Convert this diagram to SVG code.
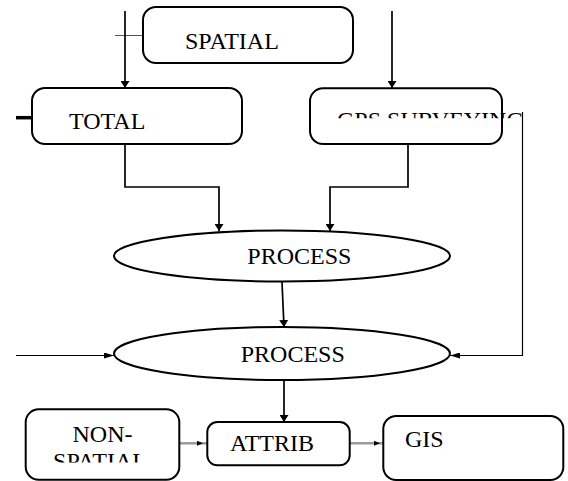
<svg xmlns="http://www.w3.org/2000/svg" width="568" height="481" viewBox="0 0 568 481">
<style>
.box{fill:#fff;stroke:#000;stroke-width:2}
.lbl{font-family:"Liberation Serif","Times New Roman",serif;font-size:24px;fill:#000}
.con{fill:none;stroke:#000;stroke-width:1.7}
.thin{fill:none;stroke:#000;stroke-width:1.2}
.gray{fill:none;stroke:#9a9a9a;stroke-width:2.5}
</style>
<defs>
<marker id="ah" markerUnits="userSpaceOnUse" markerWidth="8" markerHeight="9" refX="7" refY="4.5" orient="auto">
<path d="M0,0 L7,4.5 L0,9 z" fill="#000"/>
</marker>
<marker id="ahThin" markerUnits="userSpaceOnUse" markerWidth="11" markerHeight="6" refX="10" refY="3" orient="auto">
<path d="M0,0 L10,3 L0,6 z" fill="#000"/>
</marker>
<marker id="ahSmall" markerUnits="userSpaceOnUse" markerWidth="7" markerHeight="5" refX="6" refY="2.5" orient="auto">
<path d="M0,0 L6,2.5 L0,5 z" fill="#000"/>
</marker>
<clipPath id="clipGps"><rect x="300" y="95" width="240" height="23.3"/></clipPath>
<clipPath id="clipNon"><rect x="30" y="410" width="145" height="52.5"/></clipPath>
</defs>

<g id="connectors">
<line x1="115" y1="35.5" x2="147" y2="35.5" stroke="#555" stroke-width="1"/>
<line class="con" x1="125" y1="11" x2="125" y2="88" marker-end="url(#ah)"/>
<line class="con" x1="392" y1="11" x2="392" y2="88" marker-end="url(#ah)"/>
<polyline class="con" points="125,144 125,187 219,187 219,231" marker-end="url(#ah)"/>
<polyline class="con" points="408,144 408,187 330,187 330,231" marker-end="url(#ah)"/>
<line class="con" x1="282" y1="282" x2="284" y2="327" marker-end="url(#ah)"/>
<line class="thin" x1="16" y1="355.5" x2="114" y2="355.5" marker-end="url(#ahThin)"/>
<polyline class="thin" points="522.5,112 522.5,355.5 450,355.5" marker-end="url(#ahThin)"/>
<line class="con" x1="284" y1="380" x2="284" y2="422" marker-end="url(#ah)"/>
<line class="gray" x1="180" y1="443.3" x2="207" y2="443.3"/>
<line x1="180" y1="443.3" x2="203" y2="443.3" stroke="none" marker-end="url(#ahSmall)"/>
<line class="gray" x1="350" y1="443.3" x2="383" y2="443.3"/>
<line x1="350" y1="443.3" x2="380" y2="443.3" stroke="none" marker-end="url(#ahSmall)"/>
<line x1="16" y1="117.7" x2="32" y2="117.7" stroke="#000" stroke-width="3.5"/>
</g>

<g id="spatial">
<rect class="box" x="143" y="7" width="210" height="56" rx="13"/>
<text class="lbl" x="185" y="49">SPATIAL</text>
</g>

<g id="total">
<rect class="box" x="32" y="88" width="210" height="56" rx="13"/>
<text class="lbl" x="69" y="129.3">TOTAL</text>
</g>

<g id="gps">
<rect class="box" x="310" y="88.3" width="192" height="55.7" rx="13"/>
<text class="lbl" x="337" y="127.5" clip-path="url(#clipGps)">GPS SURVEYING</text>
</g>

<g id="process1">
<ellipse class="box" cx="282" cy="256" rx="168" ry="25.5"/>
<text class="lbl" x="247.3" y="264">PROCESS</text>
</g>

<g id="process2">
<ellipse class="box" cx="282" cy="353.5" rx="168" ry="26.5"/>
<text class="lbl" x="240.7" y="361.7">PROCESS</text>
</g>

<g id="nonspatial">
<rect class="box" x="25.7" y="409.3" width="153.6" height="70.5" rx="13"/>
<g clip-path="url(#clipNon)">
<text class="lbl" x="102.5" y="441.5" text-anchor="middle">NON-</text>
<text class="lbl" x="100" y="468.5" text-anchor="middle">SPATIAL</text>
</g>
</g>

<g id="attrib">
<rect class="box" x="207.3" y="422" width="142.4" height="43.3" rx="10"/>
<text class="lbl" x="230" y="451">ATTRIB</text>
</g>

<g id="gis">
<rect class="box" x="383.3" y="416" width="180" height="64" rx="13"/>
<text class="lbl" x="405" y="446.7">GIS</text>
</g>
</svg>
